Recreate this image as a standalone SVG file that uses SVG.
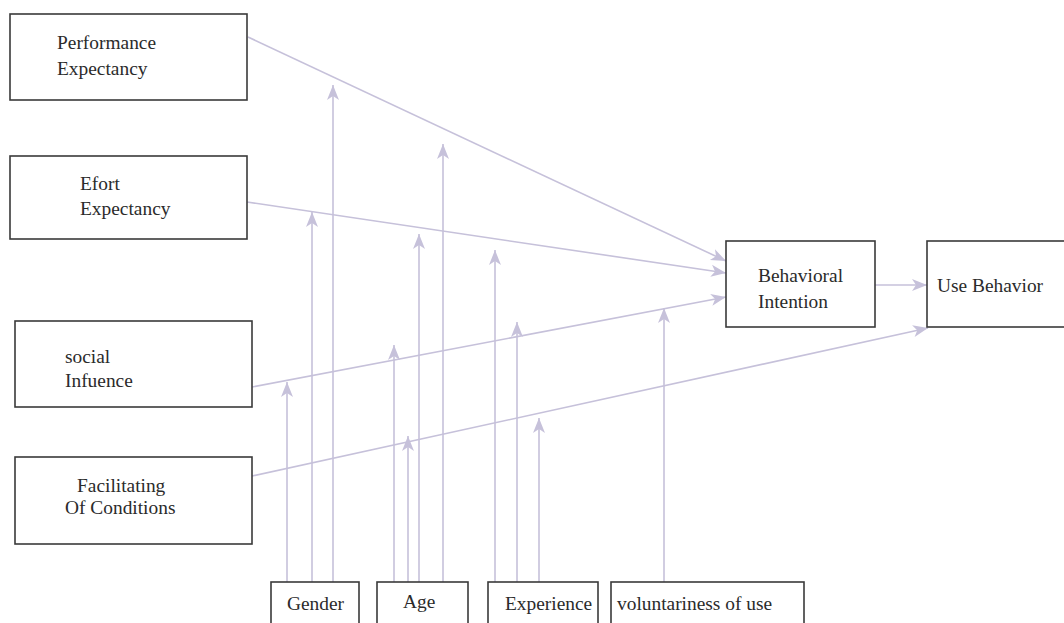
<svg xmlns="http://www.w3.org/2000/svg" width="1064" height="623" viewBox="0 0 1064 623">
  <style>
    .box { fill: #ffffff; stroke: #3a3a3a; stroke-width: 1.6; }
    .lbl { font-family: "Liberation Serif", "Times New Roman", serif; font-size: 19.4px; fill: #2b2b2b; }
    .edge { fill: none; stroke: #c6c1da; stroke-width: 1.6; marker-end: url(#arrow); }
  </style>
  <defs>
    <marker id="arrow" markerUnits="userSpaceOnUse" markerWidth="18" markerHeight="14" viewBox="-16 -7 17 14" refX="0" refY="0" orient="auto">
      <path d="M0,0 L-15,-6 L-11,0 L-15,6 Z" fill="#c6c1da"/>
    </marker>
  </defs>
  <rect width="1064" height="623" fill="#ffffff"/>

  <!-- connectors -->
  <g id="connectors">
    <path class="edge" d="M248,37 L726,261"/>
    <path class="edge" d="M247,202 L726,273"/>
    <path class="edge" d="M252,387 L726,297"/>
    <path class="edge" d="M252,476 L928,328"/>
    <path class="edge" d="M875,285 L927,285"/>
    <!-- moderators -->
    <path class="edge" d="M287,582 L287,382"/>
    <path class="edge" d="M312,582 L312,212"/>
    <path class="edge" d="M333,582 L333,85"/>
    <path class="edge" d="M394,582 L394,345"/>
    <path class="edge" d="M408,582 L408,436"/>
    <path class="edge" d="M419,582 L419,234"/>
    <path class="edge" d="M443,582 L443,144"/>
    <path class="edge" d="M495,582 L495,250"/>
    <path class="edge" d="M517,582 L517,322"/>
    <path class="edge" d="M539,582 L539,418"/>
    <path class="edge" d="M664,582 L664,308"/>
  </g>

  <g id="performance-expectancy">
    <rect class="box" x="10" y="14" width="237" height="86"/>
    <text class="lbl" x="57" y="49">Performance</text>
    <text class="lbl" x="57" y="75">Expectancy</text>
  </g>
  <g id="effort-expectancy">
    <rect class="box" x="10" y="156" width="237" height="83"/>
    <text class="lbl" x="80" y="190">Efort</text>
    <text class="lbl" x="80" y="215">Expectancy</text>
  </g>
  <g id="social-influence">
    <rect class="box" x="15" y="321" width="237" height="86"/>
    <text class="lbl" x="65" y="363">social</text>
    <text class="lbl" x="65" y="387">Infuence</text>
  </g>
  <g id="facilitating-conditions">
    <rect class="box" x="15" y="457" width="237" height="87"/>
    <text class="lbl" x="77" y="492">Facilitating</text>
    <text class="lbl" x="65" y="514">Of Conditions</text>
  </g>
  <g id="behavioral-intention">
    <rect class="box" x="726" y="241" width="149" height="86"/>
    <text class="lbl" x="758" y="282">Behavioral</text>
    <text class="lbl" x="758" y="308">Intention</text>
  </g>
  <g id="use-behavior">
    <rect class="box" x="927" y="241" width="150" height="86"/>
    <text class="lbl" x="937" y="292">Use Behavior</text>
  </g>
  <g id="gender">
    <rect class="box" x="271" y="582" width="88" height="50"/>
    <text class="lbl" x="287" y="610">Gender</text>
  </g>
  <g id="age">
    <rect class="box" x="377" y="582" width="91" height="50"/>
    <text class="lbl" x="403" y="608">Age</text>
  </g>
  <g id="experience">
    <rect class="box" x="488" y="582" width="110" height="50"/>
    <text class="lbl" x="505" y="610">Experience</text>
  </g>
  <g id="voluntariness">
    <rect class="box" x="611" y="582" width="193" height="50"/>
    <text class="lbl" x="617" y="610">voluntariness of use</text>
  </g>
</svg>
